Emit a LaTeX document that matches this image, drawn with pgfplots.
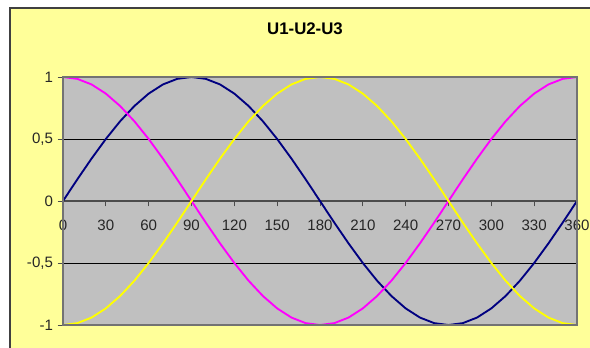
\documentclass[border=0pt]{standalone}
\usepackage{pgfplots}
\pgfplotsset{compat=1.18}
\usepackage{pgfplotstable}
\usepackage{fontspec}
\setmainfont{Liberation Sans}
\definecolor{chartbg}{HTML}{FFFF99}
\definecolor{plotbg}{HTML}{C0C0C0}
\definecolor{navyc}{HTML}{000080}
\definecolor{magc}{HTML}{FF00FF}
\definecolor{yelc}{HTML}{FFFF00}
\pgfplotstableread{
x u1 u2 u3
0 0 1 -1
10 0.174 0.985 -0.985
20 0.342 0.940 -0.940
30 0.5 0.866 -0.866
40 0.643 0.766 -0.766
50 0.766 0.643 -0.643
60 0.866 0.5 -0.5
70 0.940 0.342 -0.342
80 0.985 0.174 -0.174
90 1 0 0
100 0.985 -0.174 0.174
110 0.940 -0.342 0.342
120 0.866 -0.5 0.5
130 0.766 -0.643 0.643
140 0.643 -0.766 0.766
150 0.5 -0.866 0.866
160 0.342 -0.940 0.940
170 0.174 -0.985 0.985
180 0 -1 1
190 -0.174 -0.985 0.985
200 -0.342 -0.940 0.940
210 -0.5 -0.866 0.866
220 -0.643 -0.766 0.766
230 -0.766 -0.643 0.643
240 -0.866 -0.5 0.5
250 -0.940 -0.342 0.342
260 -0.985 -0.174 0.174
270 -1 0 0
280 -0.985 0.174 -0.174
290 -0.940 0.342 -0.342
300 -0.866 0.5 -0.5
310 -0.766 0.643 -0.643
320 -0.643 0.766 -0.766
330 -0.5 0.866 -0.866
340 -0.342 0.940 -0.940
350 -0.174 0.985 -0.985
360 0 1 -1
}\data
\begin{document}
\begin{tikzpicture}[x=1pt,y=1pt]
\path[use as bounding box] (-47.25,-16.5) rectangle (395.25,243.75);
\fill[chartbg] (-39.75,-20) rectangle (400,237.75);
\draw[black!75, line width=0.9pt] (-39.75,-20) -- (-39.75,237.75) -- (400,237.75);
\node[font=\bfseries\fontsize{12.6}{14}\selectfont] at (181.5,222) {U1-U2-U3};
\begin{axis}[at={(0,0)}, anchor=south west, scale only axis,
  width=385.5pt, height=186pt,
  xmin=0, xmax=360, ymin=-1, ymax=1,
  axis x line*=middle, axis y line*=left,
  axis line style={-, black!70, line width=0.8pt},
  axis background/.style={fill=plotbg},
  xtick={0,30,...,360},
  ytick={-1,-0.5,0,0.5,1},
  yticklabels={{-1},{-0,5},{0},{0,5},{1}},
  hide obscured x ticks=false,
  tick align=outside,
  major tick length=4pt,
  tick style={black!70, line width=0.6pt},
  ymajorgrids,
  major grid style={black, line width=0.7pt},
  ticklabel style={font=\fontsize{11.3}{13}\selectfont, text=black!85},
  xticklabel style={yshift=-7pt},
  /pgf/number format/assume math mode=true,
  clip=false,
]
\addplot[navyc, line width=1.4pt, line join=round] table[x=x,y=u1] {\data};
\addplot[magc, line width=1.4pt, line join=round] table[x=x,y=u2] {\data};
\addplot[yelc, line width=1.4pt, line join=round] table[x=x,y=u3] {\data};
\draw[black!55, line width=0.8pt] (rel axis cs:0,0) rectangle (rel axis cs:1,1);
\end{axis}
\end{tikzpicture}
\end{document}
